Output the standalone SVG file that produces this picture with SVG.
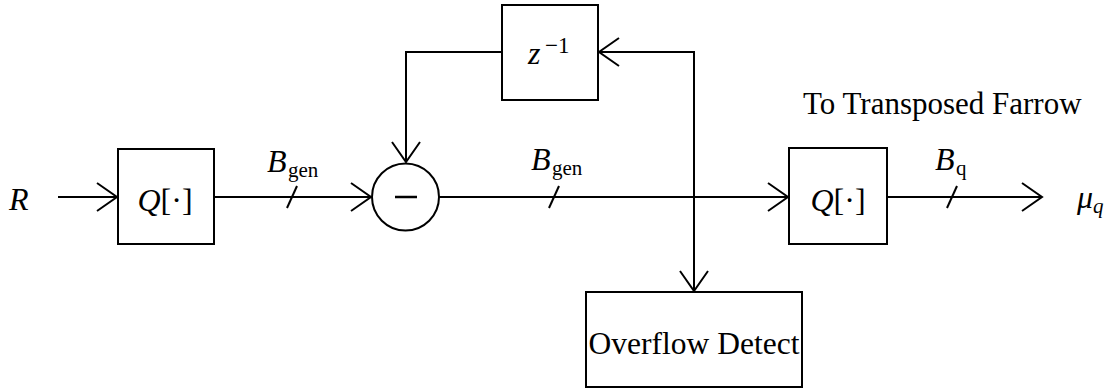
<svg xmlns="http://www.w3.org/2000/svg" width="1110" height="389" viewBox="0 0 1110 389">
<defs>
<style>
.box{fill:#fff;stroke:#000;stroke-width:2}
.ln{fill:none;stroke:#000;stroke-width:2}
.t{font-family:"Liberation Serif","Times New Roman",serif;fill:#000}
.mi{font-style:italic}
.big{font-size:32px}
.sub{font-size:21px}
</style>
<marker id="arr" markerUnits="userSpaceOnUse" markerWidth="30" markerHeight="34" viewBox="-24 -17 28 34" refX="0" refY="0" orient="auto" overflow="visible">
<path d="M-20,-14 L0,0 L-20,14" fill="none" stroke="#000" stroke-width="2"/>
</marker>
</defs>
<rect width="1110" height="389" fill="#fff"/>
<g id="connectors">
<path class="ln" d="M58,197 L117,197" marker-end="url(#arr)"/>
<path class="ln" d="M214,197 L371,197" marker-end="url(#arr)"/>
<path class="ln" d="M439,197 L788,197" marker-end="url(#arr)"/>
<path class="ln" d="M887,197 L1042,197" marker-end="url(#arr)"/>
<path class="ln" d="M502,52 L406,52 L406,162" marker-end="url(#arr)"/>
<path class="ln" d="M694,197 L694,52 L599,52" marker-end="url(#arr)"/>
<path class="ln" d="M694,197 L694,291" marker-end="url(#arr)"/>
<line class="ln" x1="287" y1="208" x2="297" y2="186"/>
<line class="ln" x1="549" y1="208" x2="559" y2="186"/>
<line class="ln" x1="947" y1="208" x2="957" y2="186"/>
<text class="t big" x="267" y="172"><tspan class="mi">B</tspan><tspan class="sub" x="288" dy="5">gen</tspan></text>
<text class="t big" x="531" y="170"><tspan class="mi">B</tspan><tspan class="sub" x="552" dy="5">gen</tspan></text>
<text class="t big" x="935" y="170"><tspan class="mi">B</tspan><tspan class="sub" x="956" dy="5">q</tspan></text>
</g>
<g id="input">
<text class="t big mi" x="9" y="210">R</text>
</g>
<g id="quant1">
<rect class="box" x="118" y="149" width="96" height="95"/>
<text class="t big" x="165" y="211" text-anchor="middle"><tspan class="mi">Q</tspan>[·]</text>
</g>
<g id="subtract">
<circle class="box" cx="405.5" cy="197" r="33.5"/>
<line x1="395" y1="197" x2="417" y2="197" stroke="#000" stroke-width="2.5"/>
</g>
<g id="delay">
<rect class="box" x="502" y="5" width="96" height="95"/>
<text class="t big" x="528" y="64"><tspan class="mi">z</tspan><tspan x="545" dy="-11" font-size="23">−1</tspan></text>
</g>
<g id="quant2">
<rect class="box" x="789" y="148" width="98" height="96"/>
<text class="t big" x="838" y="211" text-anchor="middle"><tspan class="mi">Q</tspan>[·]</text>
</g>
<g id="farrow-label">
<text class="t" x="803" y="114" font-size="31">To Transposed Farrow</text>
</g>
<g id="output">
<text class="t big" x="1077" y="208"><tspan class="mi">μ</tspan><tspan class="sub mi" dy="5">q</tspan></text>
</g>
<g id="overflow">
<rect class="box" x="586" y="292" width="216" height="95"/>
<text class="t" x="694" y="354" font-size="31.5" text-anchor="middle">Overflow Detect</text>
</g>
</svg>
